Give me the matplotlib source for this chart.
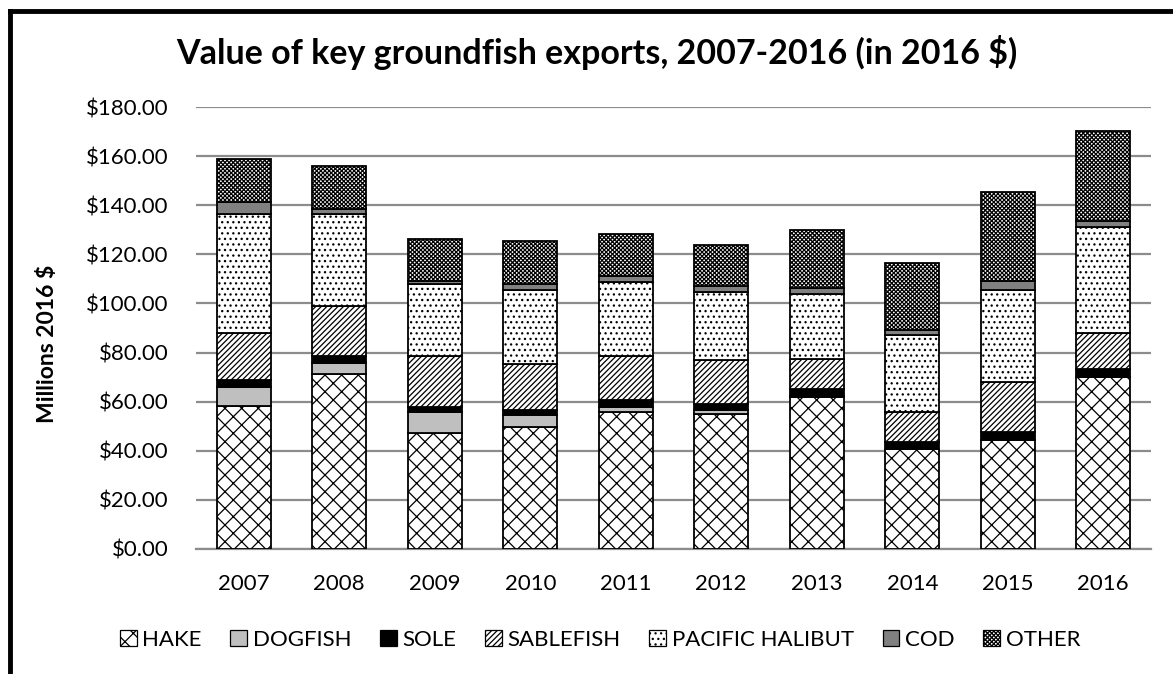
import matplotlib
matplotlib.use("Agg")
import matplotlib.pyplot as plt
from matplotlib.patches import Patch
from matplotlib.lines import Line2D
import numpy as np

years = ["2007", "2008", "2009", "2010", "2011", "2012", "2013", "2014", "2015", "2016"]
hake = [58.2, 71.2, 47.3, 49.8, 55.7, 55.1, 62.0, 40.5, 44.3, 70.0]
dogfish = [7.7, 4.7, 8.4, 4.6, 1.9, 1.4, 0.3, 0.2, 0.1, 0.2]
sole = [3.0, 2.5, 1.9, 2.2, 3.0, 2.6, 2.9, 3.0, 3.2, 3.0]
sablefish = [19.1, 20.5, 21.1, 18.7, 18.1, 18.0, 12.1, 11.9, 20.2, 14.8]
halibut = [48.3, 37.7, 29.1, 30.4, 29.9, 27.7, 26.6, 31.7, 37.6, 43.2]
cod = [5.1, 2.1, 1.2, 2.2, 2.7, 2.4, 2.4, 1.9, 3.7, 2.4]
other = [17.7, 17.2, 17.4, 17.4, 17.1, 16.8, 23.6, 27.4, 36.2, 36.9]

series_names = ["HAKE", "DOGFISH", "SOLE", "SABLEFISH", "PACIFIC HALIBUT", "COD", "OTHER"]
series_vals = [hake, dogfish, sole, sablefish, halibut, cod, other]
yticks = [0, 20, 40, 60, 80, 100, 120, 140, 160, 180]

styles = [
    dict(facecolor="white", hatch="xx"),
    dict(facecolor="#bfbfbf", hatch=None),
    dict(facecolor="black", hatch=None),
    dict(facecolor="white", hatch="//////"),
    dict(facecolor="white", hatch="..."),
    dict(facecolor="#808080", hatch=None),
    dict(facecolor="white", hatch="xxxxxxxx"),
]

plt.rcParams["font.family"] = ["Lato", "DejaVu Sans"]
plt.rcParams["hatch.linewidth"] = 0.9

fig = plt.figure(figsize=(11.73, 6.74), dpi=100)
ax = fig.add_axes([196 / 1173, 1 - 548.7 / 674, (1151 - 196) / 1173, (548.7 - 107.3) / 674])

x = np.arange(len(years))
bottom = np.zeros(len(years))
handles = []
for name, vals, st in zip(series_names, series_vals, styles):
    v = np.array(vals)
    ax.bar(x, v, width=0.565, bottom=bottom, facecolor=st["facecolor"],
           hatch=st["hatch"], edgecolor="black", linewidth=1.3, zorder=3)
    bottom += v
    handles.append(Patch(facecolor=st["facecolor"], hatch=st["hatch"], edgecolor="black",
                         linewidth=0.9, label=name))

ax.set_xlim(-0.5, len(years) - 0.5)
ax.set_ylim(0, 180)
ax.set_yticks(yticks)
ax.set_yticklabels([f"${t:.2f}" for t in yticks], fontsize=16)
ax.set_xticks(x)
ax.set_xticklabels(years, fontsize=16)
ax.tick_params(axis="x", length=0, pad=18)
ax.tick_params(axis="y", length=0, pad=20)
ax.yaxis.grid(True, color="#8c8c8c", linewidth=1.6, zorder=0)
ax.set_axisbelow(True)
for s in ["top", "right", "left"]:
    ax.spines[s].set_visible(False)
ax.spines["bottom"].set_color("#8c8c8c")
ax.spines["bottom"].set_linewidth(1.6)

ax.set_ylabel("Millions 2016 $", fontsize=16.5, fontweight="bold", va="center")
ax.yaxis.set_label_coords((48 - 196) / 955, (548.7 - 344) / 441.4)

fig.text(597 / 1173, 1 - 52 / 674, "Value of key groundfish exports, 2007-2016 (in 2016 $)",
         ha="center", va="center", fontsize=24.5, fontweight="bold")

fig.legend(handles=handles, loc="center", bbox_to_anchor=(600 / 1173, 1 - 640 / 674), ncol=7,
           frameon=False, fontsize=16, handlelength=0.75, handleheight=0.75,
           handletextpad=0.25, columnspacing=1.3)

# outer frame (left and top visible)
fig.add_artist(Line2D([10 / 1173, 10 / 1173], [0, 1 - 11 / 674], transform=fig.transFigure,
                      color="black", linewidth=3.5, solid_capstyle="projecting"))
fig.add_artist(Line2D([10 / 1173, 1.0], [1 - 11 / 674, 1 - 11 / 674], transform=fig.transFigure,
                      color="black", linewidth=3.5, solid_capstyle="projecting"))

fig.savefig("out.png", dpi=100)
